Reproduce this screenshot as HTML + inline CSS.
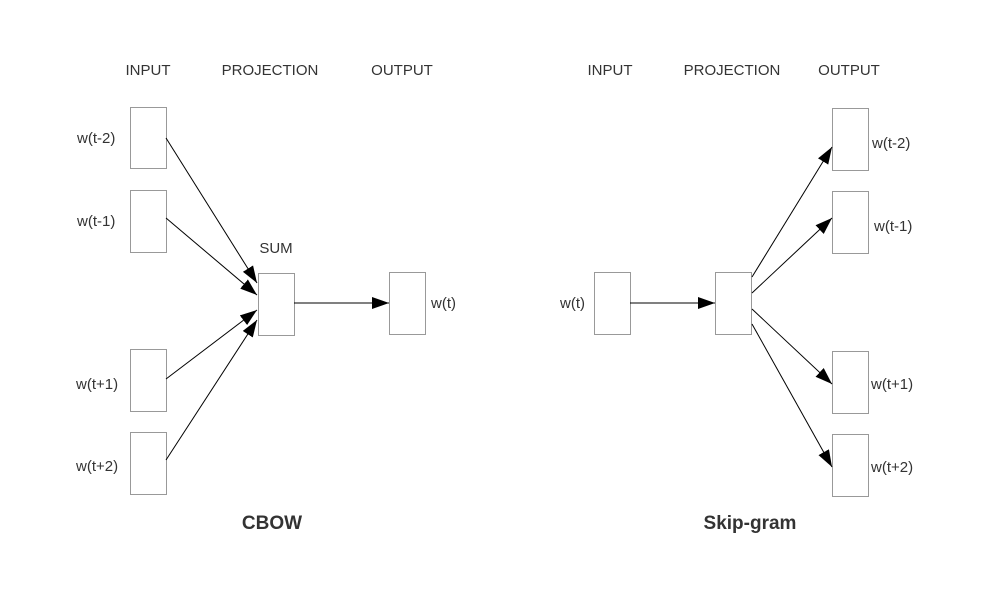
<!DOCTYPE html>
<html><head><meta charset="utf-8"><style>
html,body{margin:0;padding:0;background:#fff;}
svg{display:block;}
text{font-family:"Liberation Sans",Arial,sans-serif;fill:#333;}
</style></head><body>
<svg width="997" height="611" viewBox="0 0 997 611" xmlns="http://www.w3.org/2000/svg">
<defs>
<marker id="a" markerWidth="17" markerHeight="12" refX="17" refY="6" orient="auto" markerUnits="userSpaceOnUse">
<path d="M0,0 L17,6 L0,12 Z" fill="#000"/>
</marker>
</defs>
<g font-size="15" text-anchor="middle">
<text x="148" y="75">INPUT</text>
<text x="270" y="75">PROJECTION</text>
<text x="402" y="75">OUTPUT</text>
<text x="610" y="75">INPUT</text>
<text x="732" y="75">PROJECTION</text>
<text x="849" y="75">OUTPUT</text>
<text x="276" y="253">SUM</text>
</g>
<g fill="#fff" stroke="#999" stroke-width="1">
<rect x="130.5" y="107.5" width="36" height="61"/>
<rect x="130.5" y="190.5" width="36" height="62"/>
<rect x="130.5" y="349.5" width="36" height="62"/>
<rect x="130.5" y="432.5" width="36" height="62"/>
<rect x="258.5" y="273.5" width="36" height="62"/>
<rect x="389.5" y="272.5" width="36" height="62"/>
<rect x="594.5" y="272.5" width="36" height="62"/>
<rect x="715.5" y="272.5" width="36" height="62"/>
<rect x="832.5" y="108.5" width="36" height="62"/>
<rect x="832.5" y="191.5" width="36" height="62"/>
<rect x="832.5" y="351.5" width="36" height="62"/>
<rect x="832.5" y="434.5" width="36" height="62"/>
</g>
<g stroke="#000" stroke-width="1" marker-end="url(#a)">
<line x1="166" y1="138" x2="257" y2="283"/>
<line x1="166" y1="218" x2="257" y2="295"/>
<line x1="166" y1="379" x2="257" y2="310"/>
<line x1="166" y1="460" x2="257" y2="320"/>
<line x1="294" y1="303" x2="389" y2="303"/>
<line x1="630" y1="303" x2="715" y2="303"/>
<line x1="752" y1="277" x2="832" y2="147"/>
<line x1="752" y1="293" x2="832" y2="218"/>
<line x1="752" y1="309" x2="832" y2="384"/>
<line x1="752" y1="324" x2="832" y2="467"/>
</g>
<g font-size="15">
<text x="77" y="143">w(t-2)</text>
<text x="77" y="226">w(t-1)</text>
<text x="76" y="389">w(t+1)</text>
<text x="76" y="471">w(t+2)</text>
<text x="431" y="308">w(t)</text>
<text x="560" y="308">w(t)</text>
<text x="872" y="148">w(t-2)</text>
<text x="874" y="231">w(t-1)</text>
<text x="871" y="389">w(t+1)</text>
<text x="871" y="472">w(t+2)</text>
</g>
<g font-size="19" font-weight="bold" text-anchor="middle">
<text x="272" y="529">CBOW</text>
<text x="750" y="529">Skip-gram</text>
</g>
</svg>
</body></html>
